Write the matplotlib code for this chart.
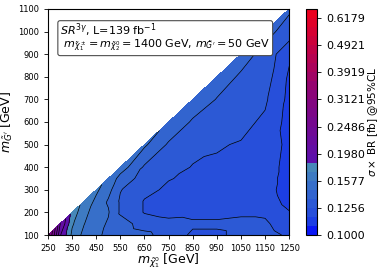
import numpy as np
import matplotlib
matplotlib.use("Agg")
import matplotlib.pyplot as plt
import matplotlib.tri as mtri
from matplotlib.colors import LinearSegmentedColormap, LogNorm

# grid of the scan (GeV)
m_chi = [250, 300, 350, 400, 450, 500, 550, 650, 750, 850, 950, 1050, 1150, 1250]
m_grav = [100, 150, 200, 250, 300, 350, 400, 500, 600, 700, 800, 900, 1000, 1100]

nan = np.nan
# sigma x BR upper limit [fb]; rows follow m_grav, columns follow m_chi
xsec_limit = [
    [0.300, 0.200, 0.167, 0.154, 0.148, 0.144, 0.141, 0.138, 0.131, 0.124, 0.124, 0.128, 0.129, 0.124],
    [nan, 0.215, 0.172, 0.158, 0.150, 0.145, 0.140, 0.131, 0.129, 0.127, 0.127, 0.128, 0.127, 0.120],
    [nan, nan, 0.178, 0.161, 0.152, 0.147, 0.134, 0.125, 0.122, 0.123, 0.123, 0.124, 0.124, 0.117],
    [nan, nan, nan, 0.166, 0.155, 0.145, 0.134, 0.125, 0.123, 0.123, 0.122, 0.122, 0.122, 0.113],
    [nan] * 4 + [0.160, 0.150, 0.136, 0.128, 0.124, 0.123, 0.122, 0.121, 0.121, 0.111],
    [nan] * 5 + [0.155, 0.142, 0.131, 0.126, 0.124, 0.123, 0.121, 0.121, 0.112],
    [nan] * 6 + [0.152, 0.134, 0.130, 0.125, 0.1245, 0.122, 0.121, 0.113],
    [nan] * 7 + [0.148, 0.134, 0.129, 0.1262, 0.125, 0.122, 0.114],
    [nan] * 8 + [0.145, 0.134, 0.131, 0.128, 0.124, 0.113],
    [nan] * 9 + [0.143, 0.135, 0.131, 0.127, 0.114],
    [nan] * 10 + [0.141, 0.134, 0.130, 0.115],
    [nan] * 11 + [0.140, 0.132, 0.118],
    [nan] * 12 + [0.139, 0.131],
    [nan] * 13 + [0.137],
]

vmin, vmax = 0.1, 0.6667
cbar_ticks = [0.1000, 0.1256, 0.1577, 0.1980, 0.2486, 0.3121, 0.3919, 0.4921, 0.6179]
x_ticks = [250, 350, 450, 550, 650, 750, 850, 950, 1050, 1150, 1250]
y_ticks = [100, 200, 300, 400, 500, 600, 700, 800, 900, 1000, 1100]

# triangulate only the kinematically allowed half of the grid
X, Y = np.meshgrid(m_chi, m_grav)
Z = np.array(xsec_limit)
ok = ~np.isnan(Z)
idx = -np.ones(Z.shape, dtype=int)
idx[ok] = np.arange(ok.sum())
tris = []
n = len(m_chi)
for j in range(n - 1):
    for i in range(n - 1):
        a, b, c, d = idx[j, i], idx[j, i + 1], idx[j + 1, i + 1], idx[j + 1, i]
        if a < 0 or b < 0 or c < 0:
            continue
        tris.append([a, b, c])
        if d >= 0:
            tris.append([a, c, d])
tri = mtri.Triangulation(X[ok], Y[ok], tris)

levels = np.geomspace(vmin, vmax, 26)
sw = np.log(levels[8] / vmin) / np.log(vmax / vmin)
cmap = LinearSegmentedColormap.from_list("xsec", [
    (0.0, "#0000ff"), (0.05, "#1a3ae6"), (0.10, "#2850da"), (0.16, "#2f5fd2"),
    (0.24, "#3a74c6"), (sw, "#4a90b4"), (sw, "#5a10ae"), (0.6, "#85057e"),
    (1.0, "#f0001a")])

fig = plt.figure(figsize=(3.81, 2.72), dpi=100)
ax = fig.add_axes([0.126, 0.136, 0.633, 0.831])
cax = fig.add_axes([0.803, 0.136, 0.029, 0.831])

cs = ax.tricontourf(tri, Z[ok], levels=levels, cmap=cmap, norm=LogNorm(vmin, vmax))
ax.tricontour(tri, Z[ok], levels=levels, colors="k", linewidths=0.5)

ax.set_xlim(250, 1250)
ax.set_ylim(100, 1100)
ax.set_xticks(x_ticks)
ax.set_yticks(y_ticks)
ax.tick_params(labelsize=6, length=3, width=0.6)
ax.set_xlabel(r"$m_{\tilde{\chi}_1^0}$ [GeV]", fontsize=9, labelpad=-1)
ax.set_ylabel(r"$m_{\tilde{G}'}$ [GeV]", fontsize=9, labelpad=2)

ax.text(0.05, 0.945,
        "$SR^{3\\gamma}$, L=139 fb$^{-1}$\n"
        " $m_{\\tilde{\\chi}_1^\\pm}=m_{\\tilde{\\chi}_2^0}=1400$ GeV, $m_{\\tilde{G}'}=50$ GeV",
        transform=ax.transAxes, ha="left", va="top", fontsize=8, linespacing=0.85,
        bbox=dict(boxstyle="round,pad=0.2", fc="white", ec="0.3", lw=0.8))

cb = fig.colorbar(cs, cax=cax)
cb.ax.minorticks_off()
cb.set_ticks(cbar_ticks)
cb.set_ticklabels(["%.4f" % t for t in cbar_ticks])
cb.ax.tick_params(labelsize=8, length=3, width=0.6)
cb.set_label(r"$\sigma \times$ BR [fb] @95%CL", fontsize=7.5, labelpad=1)

fig.savefig("out.png", dpi=100)
